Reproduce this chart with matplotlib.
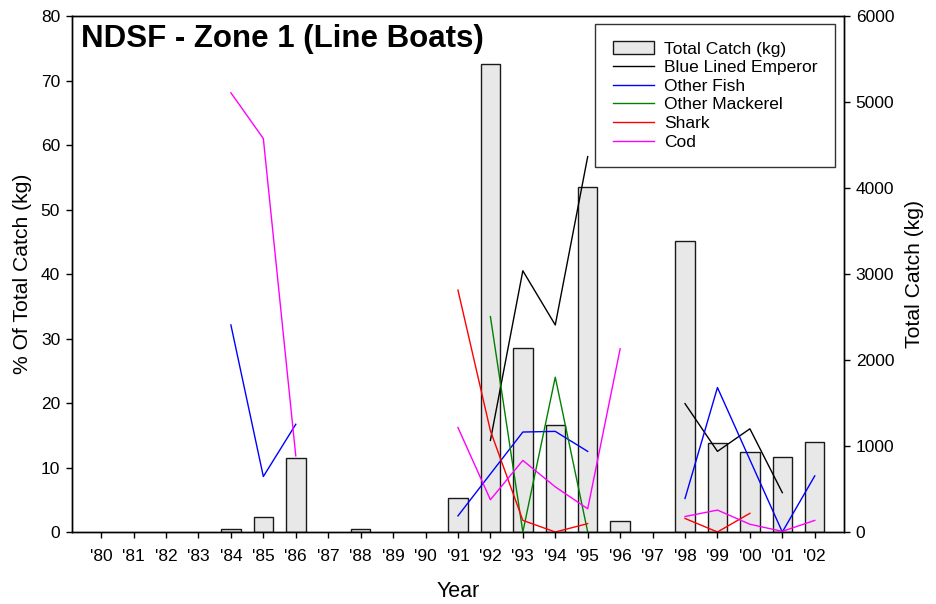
import numpy as np
import matplotlib
matplotlib.use("Agg")
import matplotlib.pyplot as plt

plt.rcParams['font.family'] = ['Liberation Sans', 'DejaVu Sans']

nan = np.nan

years = ["'80", "'81", "'82", "'83", "'84", "'85", "'86", "'87", "'88", "'89", "'90", "'91",
         "'92", "'93", "'94", "'95", "'96", "'97", "'98", "'99", "'00", "'01", "'02"]

# total catch in kg (right axis)
total_catch = [0, 0, 0, 0, 40, 180, 860, 0, 33, 0, 0, 392,
               5437, 2142, 1242, 4012, 133, 0, 3387, 1035, 930, 876, 1043]

# % of total catch (left axis), nan = no data
blue_lined_emperor = [nan] * 12 + [14.2, 40.5, 32.1, 58.2, nan, nan, 19.9, 12.5, 16.0, 6.1, nan]
other_fish = [nan, nan, nan, nan, 32.1, 8.6, 16.7, nan, nan, nan, nan, 2.5,
              9.0, 15.5, 15.6, 12.5, nan, nan, 5.2, 22.4, 11.2, 0.0, 8.7]
other_mackerel = [nan] * 12 + [33.4, 0.0, 24.0, 0.0, nan, nan, nan, nan, nan, nan, nan]
shark = [nan] * 11 + [37.5, 15.7, 1.8, 0.0, 1.3, nan, nan, 2.1, 0.0, 2.9, nan, nan]
cod = [nan, nan, nan, nan, 68.1, 61.0, 11.8, nan, nan, nan, nan, 16.2,
       5.0, 11.1, 7.0, 3.6, 28.4, nan, 2.4, 3.4, 1.2, 0.1, 1.8]

series = [
    ("Blue Lined Emperor", blue_lined_emperor, "black"),
    ("Other Fish", other_fish, "#0000ff"),
    ("Other Mackerel", other_mackerel, "#008000"),
    ("Shark", shark, "#ff0000"),
    ("Cod", cod, "#ff00ff"),
]

x = np.arange(len(years))
tc = np.array(total_catch, dtype=float)
tc_drawn = np.where(tc > 0, tc, nan)  # years with no catch get no bar outline

fig = plt.figure(figsize=(9.37, 6.04), dpi=100)
ax = fig.add_axes([0.0768, 0.1192, 0.8239, 0.8543])
ax2 = ax.twinx()

bars = ax2.bar(x, tc_drawn, width=0.6, color="#e8e8e8", edgecolor="#1a1a1a",
               linewidth=1.0, label="Total Catch (kg)")

handles = [bars]
for name, vals, col in series:
    ln, = ax.plot(x, vals, color=col, linewidth=1.0, label=name)
    handles.append(ln)

ax.set_zorder(ax2.get_zorder() + 1)
ax.patch.set_visible(False)

ax.set_xlim(-0.9, 22.9)
ax.set_ylim(0, 80)
ax2.set_ylim(0, 6000)
ax.set_yticks(range(0, 81, 10))
ax2.set_yticks(range(0, 6001, 1000))
ax.set_xticks(x)
ax.set_xticklabels(years)

for a in (ax, ax2):
    a.tick_params(direction="out", length=4.5, width=1, labelsize=12.5, pad=4)
    for s in a.spines.values():
        s.set_linewidth(1)
ax.tick_params(axis="x", pad=8)

ax.set_xlabel("Year", fontsize=15.5, labelpad=12)
ax.set_ylabel("% Of Total Catch (kg)", fontsize=15.2, labelpad=6)
ax2.set_ylabel("Total Catch (kg)", fontsize=15.2, labelpad=8)

ax.text(0.012, 0.985, "NDSF - Zone 1 (Line Boats)", transform=ax.transAxes,
        fontsize=22.5, fontweight="bold", va="top", ha="left")

leg = ax.legend(handles=handles, loc="upper right", bbox_to_anchor=(0.988, 0.9845),
                borderaxespad=0, fontsize=12.5, frameon=True, fancybox=False,
                handlelength=2.4, labelspacing=0.2, borderpad=1.0, handletextpad=0.55)
leg.get_frame().set_edgecolor("black")
leg.get_frame().set_linewidth(1)

fig.savefig("out.png", dpi=100)
